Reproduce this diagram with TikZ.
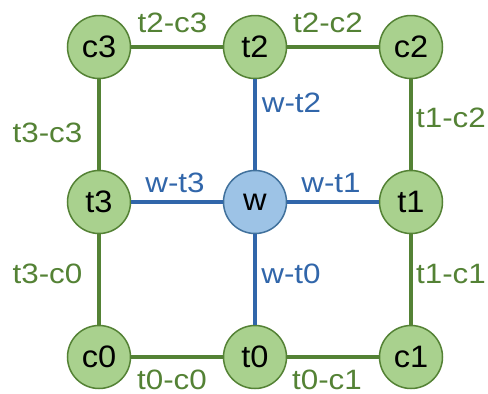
\documentclass[tikz,border=0pt]{standalone}
\usepackage{fontspec}
\setmainfont{Liberation Sans}[FakeStretch=1.12]
\newfontfamily\nodefont{Liberation Sans}[FakeStretch=1.05]
\definecolor{gfill}{HTML}{A9D18E}
\definecolor{gline}{HTML}{548235}
\definecolor{bfill}{HTML}{9DC3E6}
\definecolor{bline}{HTML}{41719C}
\definecolor{bedge}{HTML}{3166AA}
\tikzset{
  gnode/.style={circle, draw=gline, fill=gfill, line width=1.5pt, minimum size=63pt, inner sep=0pt, font=\nodefont\fontsize{31}{33}\selectfont},
  bnode/.style={circle, draw=bline, fill=bfill, line width=1.5pt, minimum size=63pt, inner sep=0pt, font=\nodefont\fontsize{31}{33}\selectfont},
  gedge/.style={draw=gline, line width=3.5pt},
  bedge/.style={draw=bedge, line width=3.5pt},
  glbl/.style={text=gline, anchor=base, inner sep=0pt, font=\fontsize{28}{30}\selectfont},
  blbl/.style={text=bedge, anchor=base, inner sep=0pt, font=\fontsize{28}{30}\selectfont}
}
\begin{document}
\begin{tikzpicture}[x=1pt, y=-1pt]
\useasboundingbox (0,0) rectangle (488,394);
% nodes
\node[gnode] (c3) at (99,47) {c3};
\node[gnode] (t2) at (255,47) {t2};
\node[gnode] (c2) at (411,47) {c2};
\node[gnode] (t3) at (99,202) {t3};
\node[bnode] (w) at (255,202) {w};
\node[gnode] (t1) at (411,202) {t1};
\node[gnode] (c0) at (99,357) {c0};
\node[gnode] (t0) at (255,357) {t0};
\node[gnode] (c1) at (411,357) {c1};
% edges
\draw[gedge] (c3) -- (t2);
\draw[gedge] (t2) -- (c2);
\draw[gedge] (c3) -- (t3);
\draw[gedge] (t3) -- (c0);
\draw[gedge] (c2) -- (t1);
\draw[gedge] (t1) -- (c1);
\draw[gedge] (c0) -- (t0);
\draw[gedge] (t0) -- (c1);
\draw[bedge] (w) -- (t2);
\draw[bedge] (w) -- (t3);
\draw[bedge] (w) -- (t1);
\draw[bedge] (w) -- (t0);
% labels
\node[glbl] (l1) at (172.5,32) {t2-c3};
\node[glbl] (l2) at (328,32) {t2-c2};
\node[glbl] (l3) at (47.5,142) {t3-c3};
\node[glbl] (l4) at (451,127) {t1-c2};
\node[blbl] (l5) at (291.5,112) {w-t2};
\node[blbl] (l6) at (175,192) {w-t3};
\node[blbl] (l7) at (331,192) {w-t1};
\node[glbl] (l8) at (47.5,283) {t3-c0};
\node[blbl] (l9) at (291,283) {w-t0};
\node[glbl] (l10) at (451,283) {t1-c1};
\node[glbl] (l11) at (172,389) {t0-c0};
\node[glbl] (l12) at (327,389) {t0-c1};
\end{tikzpicture}
\end{document}
